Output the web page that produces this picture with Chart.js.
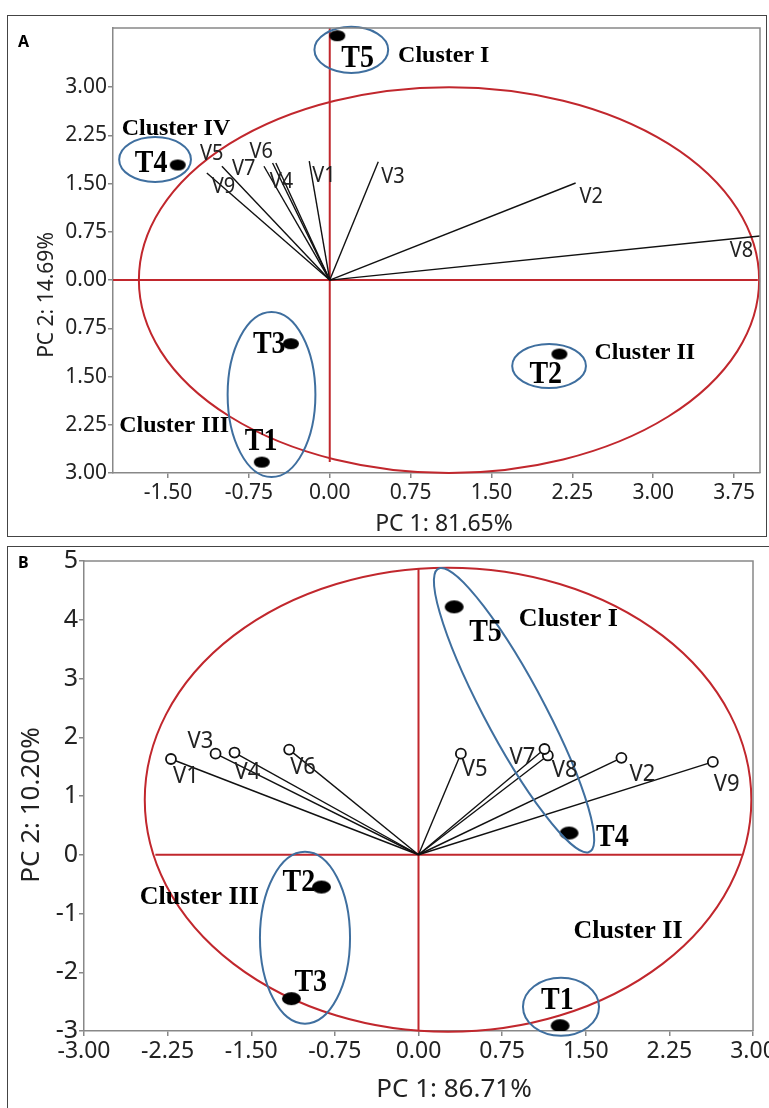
<!DOCTYPE html>
<html>
<head>
<meta charset="utf-8">
<script src="https://cdn.jsdelivr.net/npm/chart.js@4.4.1/dist/chart.umd.min.js"></script>
<style>
  html, body { margin: 0; padding: 0; background: #fff; }
  #wrap { position: relative; width: 769px; height: 1108px; overflow: hidden; }
  canvas { position: absolute; left: 0; }
  #chartA { top: 0; }
  #chartB { top: 541px; }
</style>
</head>
<body>
<div id="wrap">
  <canvas id="chartA" width="769" height="541"></canvas>
  <canvas id="chartB" width="769" height="567"></canvas>
</div>
<script>
// ---- data ----
const treatments = ['T1', 'T2', 'T3', 'T4', 'T5'];
const variables = ['V1', 'V2', 'V3', 'V4', 'V5', 'V6', 'V7', 'V8', 'V9'];

// Panel A
const scorePc1A = [-0.63, 2.13, -0.36, -1.41, 0.07];
const scorePc2A = [-2.83, -1.15, -0.99, 1.79, 3.80];
const loadPc1A = [-0.19, 2.28, 0.45, -0.50, -1.00, -0.53, -0.61, 4.10, -1.14];
const loadPc2A = [1.85, 1.51, 1.84, 1.82, 1.77, 1.82, 1.77, 0.705, 1.665];
const xTicksA = [-1.5, -0.75, 0, 0.75, 1.5, 2.25, 3, 3.75];
const yTicksA = [-3, -2.25, -1.5, -0.75, 0, 0.75, 1.5, 2.25, 3];

// Panel B
const scorePc1B = [1.27, -0.87, -1.14, 1.35, 0.32];
const scorePc2B = [-2.91, -0.55, -2.45, 0.37, 4.22];
const loadPc1B = [-2.22, 1.82, -1.82, -1.65, 0.38, -1.16, 1.13, 1.16, 2.64];
const loadPc2B = [1.63, 1.65, 1.72, 1.74, 1.72, 1.79, 1.80, 1.69, 1.58];
const xTicksB = [-3, -2.25, -1.5, -0.75, 0, 0.75, 1.5, 2.25, 3];
const yTicksB = [-3, -2, -1, 0, 1, 2, 3, 4, 5];

// ellipses [cx, cy, rx, ry, angle] in data units
const redEllipseA = [1.106, 0.0, 2.876, 3.0, 0];
const clusterEllipsesA = [
    [0.20, 3.58, 0.342, 0.358, 0],
    [-1.62, 1.875, 0.333, 0.35, 0],
    [-0.54, -1.78, 0.407, 1.283, 0],
    [2.034, -1.336, 0.342, 0.342, 0]
];
const redEllipseB = [0.265, 0.936, 2.72, 3.95, 0];
const clusterEllipsesB = [
    [0.857, 2.46, 2.51, 0.29, -74.7],
    [-1.018, -1.413, 0.404, 1.464, 0],
    [1.278, -2.587, 0.341, 0.494, 0]
];

// red cross lines [x1, y1, x2, y2]
const crossA = [[-2.01, 0, 3.97, 0], [0, 3.92, 0, -2.83]];
const crossB = [[-2.36, 0, 2.90, 0], [0, 4.87, 0, -3.0]];

const clusterLabelsA = [['Cluster I', 0.634, 3.39], ['Cluster IV', -1.93, 2.26], ['Cluster III', -1.953, -2.36], ['Cluster II', 2.455, -1.227]];
const clusterLabelsB = [['Cluster I', 0.90, 3.90], ['Cluster III', -2.50, -0.83], ['Cluster II', 1.39, -1.41]];

// label nudges in pixels (left, baseline) from the mark
const vOffsetsA = [[3, 21], [4, 20], [3, 21], [-6, 25], [-22, -6], [-23, -5], [-32, 9], [-42, 22], [5, 20]];
const tOffsetsA = [[-17, -12], [-30, 29], [-38, 9], [-43, 7], [4, 31]];
const vOffsetsB = [[2, 24], [8, 23], [-28, -6], [0, 26], [1, 22], [1, 24], [-35, 15], [4, 22], [1, 29]];
const tOffsetsB = [[-19, -17], [-39, 4], [3, -8], [27, 13], [15, 34]];

const RED = '#c1272d';
const BLUE = '#3f6f9f';
const SANS = '"Noto Sans", "Open Sans", sans-serif';
const SERIF = '"Liberation Serif", "DejaVu Serif", serif';

// filled black oval used as point marker
function makeDot(w, h) {
    const c = document.createElement('canvas');
    c.width = w + 2;
    c.height = h + 2;
    const g = c.getContext('2d');
    g.fillStyle = '#000';
    g.beginPath();
    g.ellipse(c.width / 2, c.height / 2, w / 2, h / 2, 0, 0, Math.PI * 2);
    g.fill();
    return c;
}

function drawEllipse(ctx, xs, ys, e, color) {
    const cx = xs.getPixelForValue(e[0]);
    const cy = ys.getPixelForValue(e[1]);
    const kx = xs.getPixelForValue(1) - xs.getPixelForValue(0);
    const ky = ys.getPixelForValue(0) - ys.getPixelForValue(1);
    ctx.save();
    ctx.beginPath();
    ctx.save();
    ctx.translate(cx, cy);
    ctx.scale(kx, -ky);
    ctx.rotate(e[4] * Math.PI / 180);
    ctx.ellipse(0, 0, e[2], e[3], 0, 0, Math.PI * 2);
    ctx.restore();
    ctx.strokeStyle = color;
    ctx.lineWidth = 2;
    ctx.stroke();
    ctx.restore();
}

// text slightly stretched upward, like the scanned figure
function tallText(ctx, str, x, y, stretch) {
    ctx.save();
    ctx.translate(x, y);
    ctx.scale(1, stretch);
    ctx.fillText(str, 0, 0);
    ctx.restore();
}

const overlay = {
    id: 'overlay',
    beforeDatasetsDraw(chart, args, o) {
        const { ctx, scales: { x, y } } = chart;
        drawEllipse(ctx, x, y, o.redEllipse, RED);
    },
    afterDatasetsDraw(chart, args, o) {
        const { ctx, scales: { x, y } } = chart;
        o.clusterEllipses.forEach(e => drawEllipse(ctx, x, y, e, BLUE));

        ctx.save();
        ctx.textAlign = 'left';
        ctx.textBaseline = 'alphabetic';

        // variable labels
        ctx.fillStyle = '#222';
        ctx.font = o.vFont;
        variables.forEach((v, i) => {
            const px = x.getPixelForValue(o.load1[i]) + o.vOffsets[i][0];
            const py = y.getPixelForValue(o.load2[i]) + o.vOffsets[i][1];
            tallText(ctx, v, px, py, 1.1);
        });

        // treatment labels
        ctx.fillStyle = '#000';
        ctx.font = 'bold ' + o.tSize + 'px ' + SERIF;
        treatments.forEach((t, i) => {
            const px = x.getPixelForValue(o.score1[i]) + o.tOffsets[i][0];
            const py = y.getPixelForValue(o.score2[i]) + o.tOffsets[i][1];
            tallText(ctx, t, px, py, 1.15);
        });

        // cluster names
        ctx.font = 'bold ' + o.cSize + 'px ' + SERIF;
        o.clusterLabels.forEach(c => {
            ctx.fillText(c[0], x.getPixelForValue(c[1]), y.getPixelForValue(c[2]));
        });
        ctx.restore();
    },
    afterDraw(chart, args, o) {
        const { ctx, chartArea: a } = chart;
        ctx.save();
        // top and right edges of the plot frame
        ctx.strokeStyle = '#888';
        ctx.lineWidth = 1.5;
        ctx.beginPath();
        ctx.moveTo(a.left, a.top);
        ctx.lineTo(a.right, a.top);
        ctx.lineTo(a.right, a.bottom);
        ctx.stroke();

        // panel box
        ctx.strokeStyle = '#444';
        ctx.lineWidth = 1;
        ctx.strokeRect(o.box[0], o.box[1], o.box[2], o.box[3]);

        // panel letter
        ctx.fillStyle = '#000';
        ctx.font = 'bold 16px ' + SANS;
        ctx.textAlign = 'left';
        ctx.textBaseline = 'alphabetic';
        ctx.fillText(o.letter, o.letterPos[0], o.letterPos[1]);

        // axis titles
        ctx.fillStyle = '#222';
        ctx.textAlign = 'center';
        ctx.font = o.xTitleSize + 'px ' + SANS;
        ctx.fillText(o.xTitle, o.xTitlePos[0], o.xTitlePos[1]);
        ctx.translate(o.yTitlePos[0], o.yTitlePos[1]);
        ctx.rotate(-Math.PI / 2);
        ctx.textBaseline = 'middle';
        ctx.font = o.yTitleSize + 'px ' + SANS;
        ctx.fillText(o.yTitle, 0, 0);
        ctx.restore();
    }
};

function axis(min, max, ticks, fmt, fontSize, fitSize, isX) {
    return {
        type: 'linear',
        min: min,
        max: max,
        afterBuildTicks: s => { s.ticks = ticks.map(v => ({ value: v })); },
        afterFit: s => {
            if (isX) s.height = fitSize; else s.width = fitSize;
            s.paddingLeft = 0; s.paddingRight = 0; s.paddingTop = 0; s.paddingBottom = 0;
        },
        ticks: {
            callback: fmt,
            font: { family: SANS, size: fontSize },
            color: '#222',
            padding: isX ? 2 : 1,
            autoSkip: false,
            maxRotation: 0,
            minRotation: 0
        },
        grid: { drawOnChartArea: false, drawTicks: true, tickLength: 5, color: '#888', lineWidth: 1.5 },
        border: { display: true, color: '#888', width: 1.5 }
    };
}

function buildDatasets(s1, s2, l1, l2, cross, dot, endRadius) {
    const sets = [];
    sets.push({
        label: 'Treatments',
        data: treatments.map((t, i) => ({ x: s1[i], y: s2[i] })),
        pointStyle: dot,
        pointRadius: 8,
        showLine: false
    });
    variables.forEach((v, i) => {
        sets.push({
            label: v,
            data: [{ x: 0, y: 0 }, { x: l1[i], y: l2[i] }],
            showLine: true,
            borderColor: '#111',
            borderWidth: 1.4,
            pointRadius: [0, endRadius],
            pointStyle: 'circle',
            pointBorderColor: '#111',
            pointBackgroundColor: '#fff',
            pointBorderWidth: 1.8,
            clip: 0
        });
    });
    cross.forEach(c => {
        sets.push({
            label: 'axis',
            data: [{ x: c[0], y: c[1] }, { x: c[2], y: c[3] }],
            showLine: true,
            borderColor: RED,
            borderWidth: 2,
            pointRadius: 0,
            clip: 2
        });
    });
    return sets;
}

// ---- Panel A ----
new Chart(document.getElementById('chartA'), {
    type: 'scatter',
    data: { datasets: buildDatasets(scorePc1A, scorePc2A, loadPc1A, loadPc2A, crossA, makeDot(16, 11), 0) },
    options: {
        responsive: false,
        animation: false,
        events: [],
        layout: { padding: { left: 0, top: 28, right: 6, bottom: 0 } },
        scales: {
            x: axis(-2.01, 3.99, xTicksA, v => v.toFixed(2), 21, 68, true),
            y: axis(-3, 3.92, yTicksA, v => Math.abs(v).toFixed(2), 21, 113, false)
        },
        plugins: {
            legend: { display: false },
            tooltip: { enabled: false },
            overlay: {
                redEllipse: redEllipseA,
                clusterEllipses: clusterEllipsesA,
                score1: scorePc1A, score2: scorePc2A,
                load1: loadPc1A, load2: loadPc2A,
                vOffsets: vOffsetsA, tOffsets: tOffsetsA,
                vFont: '20px ' + SANS,
                tSize: 28, cSize: 24,
                clusterLabels: clusterLabelsA,
                box: [7.5, 15.5, 759, 521],
                letter: 'A', letterPos: [18, 47],
                xTitle: 'PC 1: 81.65%', xTitleSize: 23, xTitlePos: [444, 531],
                yTitle: 'PC 2: 14.69%', yTitleSize: 21, yTitlePos: [47, 295]
            }
        }
    },
    plugins: [overlay]
});

// ---- Panel B ----
new Chart(document.getElementById('chartB'), {
    type: 'scatter',
    data: { datasets: buildDatasets(scorePc1B, scorePc2B, loadPc1B, loadPc2B, crossB, makeDot(19, 13), 5) },
    options: {
        responsive: false,
        animation: false,
        events: [],
        layout: { padding: { left: 0, top: 20, right: 16, bottom: 0 } },
        scales: {
            x: axis(-3, 3, xTicksB, v => v.toFixed(2), 23, 77, true),
            y: axis(-3, 5, yTicksB, v => String(v), 25, 84, false)
        },
        plugins: {
            legend: { display: false },
            tooltip: { enabled: false },
            overlay: {
                redEllipse: redEllipseB,
                clusterEllipses: clusterEllipsesB,
                score1: scorePc1B, score2: scorePc2B,
                load1: loadPc1B, load2: loadPc2B,
                vOffsets: vOffsetsB, tOffsets: tOffsetsB,
                vFont: '22px ' + SANS,
                tSize: 28, cSize: 26,
                clusterLabels: clusterLabelsB,
                box: [7.5, 5.5, 800, 700],
                letter: 'B', letterPos: [18, 27],
                xTitle: 'PC 1: 86.71%', xTitleSize: 26, xTitlePos: [454, 556],
                yTitle: 'PC 2: 10.20%', yTitleSize: 26, yTitlePos: [32, 264]
            }
        }
    },
    plugins: [overlay]
});
</script>
</body>
</html>
